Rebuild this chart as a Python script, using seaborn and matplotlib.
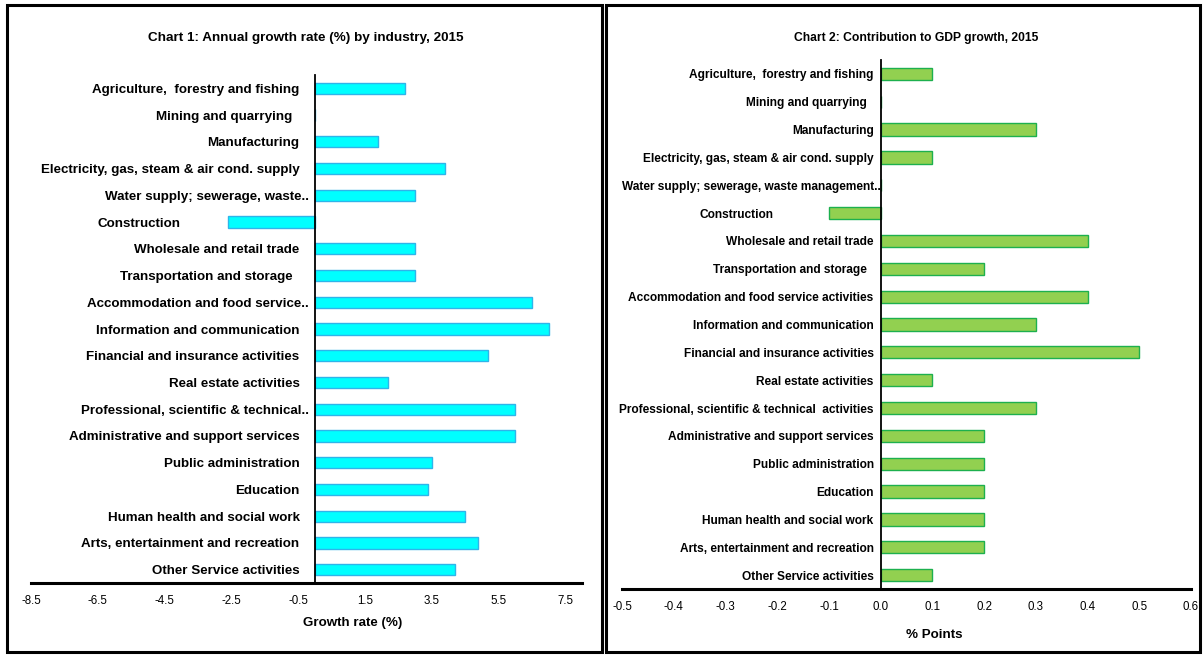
import matplotlib
matplotlib.use('Agg')
import matplotlib.pyplot as plt
import seaborn as sns
import pandas as pd
import numpy as np
from matplotlib import transforms
from matplotlib.patches import Rectangle

# ---------------- data ----------------
industries1 = [
    "Agriculture,  forestry and fishing", "Mining and quarrying", "Manufacturing",
    "Electricity, gas, steam & air cond. supply", "Water supply; sewerage, waste..",
    "Construction", "Wholesale and retail trade", "Transportation and storage",
    "Accommodation and food service..", "Information and communication",
    "Financial and insurance activities", "Real estate activities",
    "Professional, scientific & technical..", "Administrative and support services",
    "Public administration", "Education", "Human health and social work",
    "Arts, entertainment and recreation", "Other Service activities",
]
growth_rate = [2.7, 0.0, 1.9, 3.9, 3.0, -2.6, 3.0, 3.0, 6.5, 7.0,
               5.2, 2.2, 6.0, 6.0, 3.5, 3.4, 4.5, 4.9, 4.2]

industries2 = [
    "Agriculture,  forestry and fishing", "Mining and quarrying", "Manufacturing",
    "Electricity, gas, steam & air cond. supply", "Water supply; sewerage, waste management..",
    "Construction", "Wholesale and retail trade", "Transportation and storage",
    "Accommodation and food service activities", "Information and communication",
    "Financial and insurance activities", "Real estate activities",
    "Professional, scientific & technical  activities", "Administrative and support services",
    "Public administration", "Education", "Human health and social work",
    "Arts, entertainment and recreation", "Other Service activities",
]
contribution = [0.1, 0.0, 0.3, 0.1, 0.0, -0.1, 0.4, 0.2, 0.4, 0.3,
                0.5, 0.1, 0.3, 0.2, 0.2, 0.2, 0.2, 0.2, 0.1]

x1_ticks = [-8.5, -6.5, -4.5, -2.5, -0.5, 1.5, 3.5, 5.5, 7.5]
x2_ticks = [-0.5, -0.4, -0.3, -0.2, -0.1, 0.0, 0.1, 0.2, 0.3, 0.4, 0.5, 0.6]

title1 = "Chart 1: Annual growth rate (%) by industry, 2015"
title2 = "Chart 2: Contribution to GDP growth, 2015"
xlabel1 = "Growth rate (%)"
xlabel2 = "% Points"

# ---------------- style ----------------
sns.set_style('white')
plt.rcParams['font.family'] = ['Liberation Sans', 'DejaVu Sans']

W, H = 1203, 655
fig = plt.figure(figsize=(W / 100, H / 100), dpi=100)


def px_axes(x0, y0, x1, y1):
    return [x0 / W, 1 - y1 / H, (x1 - x0) / W, (y1 - y0) / H]


ax1 = fig.add_axes(px_axes(31, 75, 582, 583))
ax2 = fig.add_axes(px_axes(622, 60, 1191, 589))

df1 = pd.DataFrame({'industry': industries1, 'value': growth_rate})
df2 = pd.DataFrame({'industry': industries2, 'value': contribution})

sns.barplot(data=df1, y='industry', x='value', orient='h', color='#00FFFF',
            edgecolor='#2FB4EA', linewidth=1.0, width=0.42, saturation=1, ax=ax1)
sns.barplot(data=df2, y='industry', x='value', orient='h', color='#92D050',
            edgecolor='#1DB04E', linewidth=1.0, width=0.44, saturation=1, ax=ax2)


def style(ax, xlim, xticks, fmt, label_size, pad, offsets, center_ticks):
    n = len(ax.get_yticks())
    ax.set_ylim(n - 0.5, -0.5)
    ax.set_xlim(*xlim)
    ax.set_xticks(xticks)
    ax.set_xticklabels([fmt.format(t) for t in xticks], fontsize=8.3, color='black')
    ax.set_xlabel('')
    ax.set_ylabel('')
    for s in ['top', 'right']:
        ax.spines[s].set_visible(False)
    ax.spines['left'].set_position(('data', 0))
    ax.spines['left'].set_linewidth(1.3)
    ax.spines['left'].set_color('black')
    ax.spines['bottom'].set_linewidth(2.2)
    ax.spines['bottom'].set_color('black')
    ax.set_yticks(np.arange(-0.5, n, 1), minor=True)
    ax.tick_params(axis='y', which='major', length=2 if center_ticks else 0,
                   width=1.0, direction='in', color='black',
                   pad=pad, labelsize=label_size, labelcolor='black')
    ax.tick_params(axis='y', which='minor', length=3, width=1.3, direction='out', color='black')
    ax.tick_params(axis='x', which='major', length=3, width=1.3, direction='out',
                   color='black', pad=6)
    for lab in ax.get_yticklabels():
        lab.set_fontweight('bold')
        dx = offsets.get(lab.get_text(), 0)
        if dx:
            lab.set_transform(lab.get_transform() +
                              transforms.ScaledTranslation(dx / 100, 0, fig.dpi_scale_trans))
    ax.set_facecolor('white')


style(ax1, (-8.5, 8.0), x1_ticks, '{:.1f}', 9.6, 11,
      {"Construction": -119, "Mining and quarrying": -7, "Transportation and storage": -7,
       "Water supply; sewerage, waste..": 9, "Accommodation and food service..": 9,
       "Professional, scientific & technical..": 9}, False)
style(ax2, (-0.5, 0.6), x2_ticks, '{:.1f}', 8.6, 5,
      {"Construction": -100, "Mining and quarrying": -7, "Transportation and storage": -7,
       "Water supply; sewerage, waste management..": 7}, True)

fig.text(306 / W, 1 - 38 / H, title1, ha='center', va='center', fontsize=9.7,
         fontweight='bold', color='black')
fig.text(916 / W, 1 - 38 / H, title2, ha='center', va='center', fontsize=8.7,
         fontweight='bold', color='black')
fig.text(353 / W, 1 - 623 / H, xlabel1, ha='center', va='center', fontsize=9.6,
         fontweight='bold', color='black')
fig.text(934 / W, 1 - 635 / H, xlabel2, ha='center', va='center', fontsize=9.6,
         fontweight='bold', color='black')

# panel borders
for x0, x1 in [(7, 602), (606, 1200)]:
    fig.add_artist(Rectangle((x0 / W, 1 - 652 / H), (x1 - x0) / W, (652 - 5) / H,
                             transform=fig.transFigure, fill=False,
                             edgecolor='black', linewidth=2.2))

fig.savefig('out.png', dpi=100, facecolor='white')
